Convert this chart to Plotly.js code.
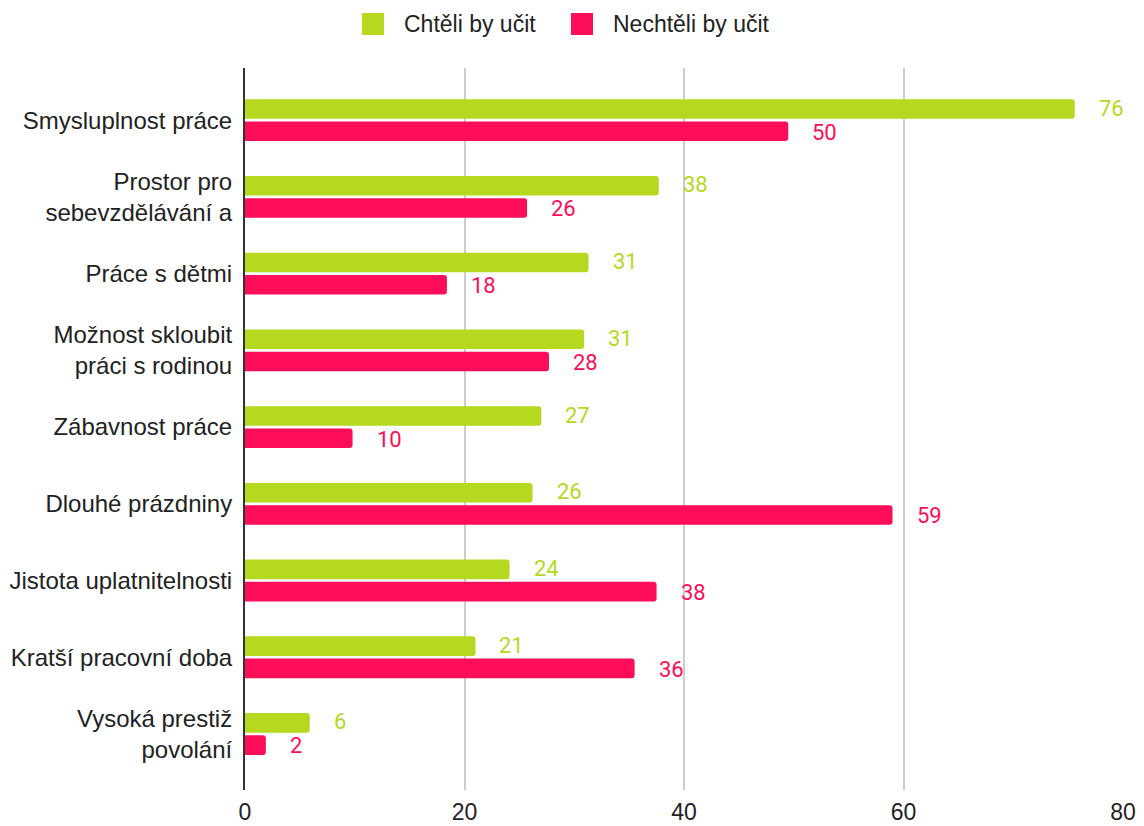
<!DOCTYPE html>
<html><head><meta charset="utf-8">
<script src="https://cdn.plot.ly/plotly-3.0.1.min.js"></script>
<style>html,body{margin:0;padding:0;background:#fff;}#chart{width:1144px;height:826px;}</style>
</head><body><div id="chart"></div>
<script>
const categories = ["Smysluplnost práce","Prostor pro<br>sebevzdělávání a","Práce s dětmi","Možnost skloubit<br>práci s rodinou","Zábavnost práce","Dlouhé prázdniny","Jistota uplatnitelnosti","Kratší pracovní doba","Vysoká prestiž<br>povolání"];
const seriesNames = ["Chtěli by učit","Nechtěli by učit"];
const chteli = [75.6, 37.7, 31.3, 30.9, 27.0, 26.2, 24.1, 21.0, 5.9];
const nechteli = [49.5, 25.7, 18.4, 27.7, 9.8, 59.0, 37.5, 35.5, 1.9];
const chteliLabels = ["76","38","31","31","27","26","24","21","6"];
const nechteliLabels = ["50","26","18","28","10","59","38","36","2"];
const xTicks = [0,20,40,60,80];
const colors = ["#b4d91f","#fe0d59"];

const W = 1144, H = 826, M = {l:245, r:21, t:68, b:36};
const PW = W - M.l - M.r, PH = H - M.t - M.b;
const px = v => (v - M.l) / PW;
const py = v => (H - M.b - v) / PH;

const traces = [
  {type:'bar', orientation:'h', name:seriesNames[0], y:categories, x:chteli,
   marker:{color:colors[0], cornerradius:3}, showlegend:false},
  {type:'bar', orientation:'h', name:seriesNames[1], y:categories, x:nechteli,
   marker:{color:colors[1], cornerradius:3}, showlegend:false}
];

const annotations = [];
categories.forEach((c,i)=>{
  annotations.push({x:chteli[i], y:i, xref:'x', yref:'y', text:chteliLabels[i], showarrow:false,
    xanchor:'left', yanchor:'middle', xshift:22, yshift:12, font:{family:'Roboto', size:22, color:colors[0]}});
  annotations.push({x:nechteli[i], y:i, xref:'x', yref:'y', text:nechteliLabels[i], showarrow:false,
    xanchor:'left', yanchor:'middle', xshift:22, yshift:-12, font:{family:'Roboto', size:22, color:colors[1]}});
});

// legend drawn as squares + labels
const legendBoxes = [[362,384],[571,593]];
const legendText = [402,611];
const shapes = [];
seriesNames.forEach((n,i)=>{
  shapes.push({type:'rect', xref:'paper', yref:'paper', x0:px(legendBoxes[i][0]), x1:px(legendBoxes[i][1]),
    y0:py(35), y1:py(13), fillcolor:colors[i], line:{width:0}, layer:'above'});
  annotations.push({xref:'paper', yref:'paper', x:px(legendText[i]), y:py(24), xanchor:'left', yanchor:'middle',
    text:n, showarrow:false, font:{family:'Liberation Sans', size:23, color:'#222'}});
});

const layout = {
  width:W, height:H,
  margin:M,
  paper_bgcolor:'#fff', plot_bgcolor:'#fff',
  font:{family:'Liberation Sans', size:23, color:'#222'},
  barmode:'group', bargap:0.42, bargroupgap:0.12,
  showlegend:false,
  xaxis:{range:[0,80], tickvals:xTicks, ticktext:xTicks.map(String), showgrid:true, gridcolor:'#cccccc', gridwidth:2,
    zeroline:false, showline:false, ticks:'', tickfont:{family:'Liberation Sans', size:23, color:'#222'}, ticklabelstandoff:6},
  yaxis:{type:'category', range:[8.73,-0.68], showline:true, linecolor:'#333', linewidth:2, ticks:'',
    showgrid:false, zeroline:false, tickfont:{family:'Liberation Sans', size:24, color:'#222'}, ticklabelstandoff:6},
  shapes:shapes,
  annotations:annotations
};
Plotly.newPlot('chart', traces, layout, {displayModeBar:false, staticPlot:true});
</script></body></html>
